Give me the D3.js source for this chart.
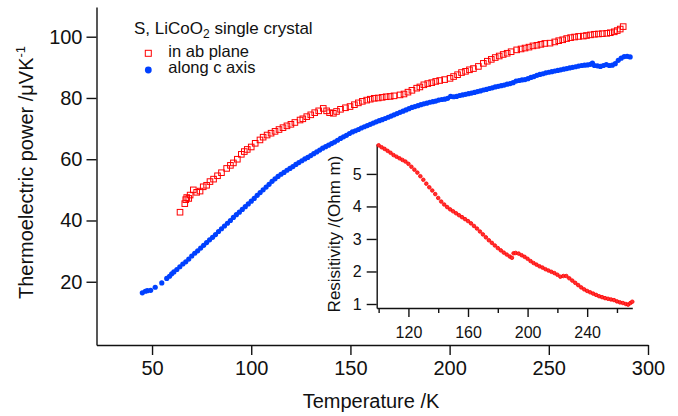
<!DOCTYPE html>
<html><head><meta charset="utf-8">
<script src="https://cdn.jsdelivr.net/npm/d3@7"></script>
<style>
html,body{margin:0;padding:0;background:#fff;}
svg{display:block;font-family:"Liberation Sans",Arial,Helvetica,sans-serif;}
</style></head>
<body><svg id="chart" width="678" height="416"></svg>
<script>
// ---- Data ----
const abT = [64.1,66.5,67.0,67.5,68.5,69.2,70.8,72.5,74.2,75.8,77.5,79.2,81,83,85,87.6,89.5,91,93,95,96.5,98,100,102,104.4,106,108,110,112,114,116,118,120,122,124.6,126,128,130,132,134,136.3,138,139.5,141.4,143,145,147.5,149.8,152,154,156,158.2,160,162,164,166,168,170,172,175,177,179,181,183.4,185,187,189,191,193,195,197.5,200.2,202,204,206,208,210,212,214.5,217,219,221,223,225,227,229,231,233.8,236,238,240,242,244,246,248,250.6,253,255,257,259,261,263,265,267.4,269,271,273,275,277,279.2,281,283,284.5,286,287.5];
const abS = [42.7,45.5,46.8,47.5,47.2,48.3,50.0,49.2,49.6,51.0,51.5,52.7,53.5,54.6,55.6,57.0,58.0,58.8,60.0,61.6,62.5,63.2,64.0,65.2,66.3,67.2,67.9,68.5,69.1,69.7,70.3,70.9,71.4,72.0,72.8,73.2,73.9,74.5,75.2,75.8,76.6,75.8,75.2,75.0,75.6,76.3,76.8,77.2,77.8,78.4,78.9,79.3,79.6,79.9,80.0,80.2,80.4,80.5,80.7,81.0,81.3,81.9,82.5,83.2,83.6,84.3,84.7,85.0,85.4,85.7,86.0,86.4,87.0,87.6,88.3,88.7,89.2,89.6,90.3,91.3,92.0,92.6,93.2,93.7,94.2,94.6,95.1,95.7,96.0,96.3,96.6,97.0,97.2,97.5,97.8,97.9,98.3,98.7,99.0,99.4,99.7,99.9,100.1,100.2,100.4,100.6,100.8,100.9,101.0,101.1,101.3,101.6,102.0,102.5,103.3];

const cT = [45.1,46.6,47.6,49.3,51.6,54.9,57.4,58.8,59.9,61.0,62.5,64.0,65.5,67.0,68.5,70.0,71.5,73.0,74.5,76.0,77.5,79.0,80.5,82.0,83.5,85.0,86.5,88.0,89.5,91.0,92.5,94.0,95.5,97.0,98.5,100.0,101.5,103.0,104.5,106.0,107.5,109.0,110.5,112.0,113.5,115.0,116.5,118.0,119.5,121.0,122.5,124.0,125.5,127.0,128.5,130.0,131.5,133.0,134.5,136.0,137.5,139.0,140.5,142.0,143.5,145.0,146.5,148.0,149.5,151.0,152.5,154.0,155.5,157.0,158.5,160.0,161.5,163.0,164.5,166.0,167.5,169.0,170.5,172.0,173.5,175.0,176.5,178.0,179.5,181.0,182.5,184.0,185.5,187.0,188.5,190.0,191.5,193.0,194.5,196.0,197.5,199.0,200.5,202.0,203.5,205.0,206.5,208.0,209.5,211.0,212.5,214.0,215.5,217.0,218.5,220.0,221.5,223.0,224.5,226.0,227.5,229.0,230.5,232.0,233.5,235.0,236.5,238.0,239.5,241.0,242.5,244.0,245.5,247.0,248.5,250.0,251.5,253.0,254.5,256.0,257.5,259.0,260.5,262.0,263.5,265.0,266.5,268.0,269.5,271.0,272.0,273.0,274.5,276.0,277.5,279.0,280.5,282.0,283.5,285.0,286.5,288.0,289.5,291.0];
const cS = [16.4,16.9,17.1,17.2,18.2,19.6,21.1,21.8,22.6,23.2,24.0,24.9,25.8,26.5,27.4,28.4,29.3,30.1,31.0,31.9,32.8,33.7,34.5,35.4,36.4,37.3,38.2,39.1,40.0,41.0,41.9,42.7,43.6,44.5,45.4,46.3,47.2,48.2,49.1,50.0,50.9,51.8,52.8,53.6,54.4,55.1,55.7,56.4,57.0,57.6,58.3,58.9,59.5,60.1,60.6,61.2,61.8,62.4,63.0,63.6,64.1,64.6,65.1,65.6,66.2,66.8,67.3,67.8,68.4,68.9,69.3,69.7,70.2,70.6,71.0,71.4,71.8,72.2,72.6,72.9,73.3,73.7,74.1,74.5,74.9,75.3,75.7,76.1,76.5,76.9,77.2,77.5,77.8,78.1,78.3,78.6,78.8,79.0,79.3,79.5,79.6,79.9,80.5,80.4,80.5,80.8,81.0,81.2,81.4,81.6,81.8,82.1,82.3,82.6,82.8,83.1,83.3,83.6,83.8,84.0,84.2,84.5,84.7,85.0,85.5,85.7,85.9,86.0,86.3,86.7,87.0,87.4,87.7,87.9,88.2,88.4,88.6,88.8,89.0,89.2,89.4,89.6,89.8,90.0,90.2,90.4,90.6,90.7,90.8,91.0,91.4,90.6,90.5,90.3,90.6,90.9,90.6,90.7,91.2,92.3,93.0,93.5,93.6,93.4];

const rhoT = [100,102,104,106,108,110,112,114,116,118,120,122,124,126,128,130,132,134,136,138,140,142,144,146,148,150,152,154,156,158,160,162,164,166,168,170,172,174,176,178,180,182,184,186,188,189.5,190.6,192,194,196,198,200,202,204,206,208,210,212,214,216,218,220,222,224,226,228,230,232,234,236,238,240,242,244,246,248,250,252,254,256,258,260,262,264,266,267.5,269,270.3];
const rho = [5.88,5.82,5.77,5.71,5.65,5.58,5.53,5.48,5.43,5.38,5.31,5.22,5.13,5.04,4.93,4.82,4.70,4.59,4.49,4.38,4.26,4.15,4.06,3.98,3.91,3.85,3.79,3.73,3.67,3.61,3.55,3.48,3.40,3.32,3.23,3.14,3.05,2.96,2.88,2.80,2.72,2.65,2.58,2.52,2.46,2.42,2.56,2.57,2.55,2.50,2.45,2.39,2.32,2.26,2.21,2.16,2.12,2.07,2.03,1.99,1.95,1.90,1.84,1.86,1.86,1.79,1.72,1.65,1.58,1.51,1.45,1.40,1.36,1.32,1.28,1.24,1.21,1.18,1.16,1.14,1.12,1.08,1.05,1.03,1.00,0.98,1.03,1.07];

const mainXTicks = [50,100,150,200,250,300];
const mainYTicks = [20,40,60,80,100];
const insetXMajor = [120,160,200,240];
const insetXMinor = [100,140,180,220,260];
const insetYTicks = [1,2,3,4,5];

// ---- Drawing ----
const svg = d3.select("#chart");
const RED = "#ff0000", BLUE = "#0040ff", INK = "#111";

const x = d3.scaleLinear().domain([22, 300]).range([96.5, 648]);
const y = d3.scaleLinear().domain([-0.65, 109.7]).range([345, 7]);

function styleAxis(g, fs){
  g.selectAll(".domain").attr("stroke", INK).attr("stroke-width", 1.4);
  g.selectAll(".tick line").attr("stroke", INK).attr("stroke-width", 1.4);
  g.selectAll(".tick text").attr("fill", INK).style("font-size", fs + "px")
   .style("font-family", '"Liberation Sans",Arial,sans-serif');
}

const gx = svg.append("g").attr("transform", "translate(0,345)")
  .call(d3.axisBottom(x).tickValues(mainXTicks).tickSize(10).tickPadding(6).tickSizeOuter(0));
styleAxis(gx, 20);
const gy = svg.append("g").attr("transform", "translate(96.5,0)")
  .call(d3.axisLeft(y).tickValues(mainYTicks).tickSize(10).tickPadding(4).tickSizeOuter(0));
styleAxis(gy, 20);

// titles
svg.append("text").attr("x", 371).attr("y", 408).attr("text-anchor", "middle")
  .style("font-size", "20px").attr("fill", INK).text("Temperature /K");
const yt = svg.append("text").attr("transform", "translate(33,172.5) rotate(-90)")
  .attr("text-anchor", "middle").style("font-size", "20px").attr("fill", INK);
yt.append("tspan").text("Thermoelectric power /\u03bcVK");
yt.append("tspan").attr("dy", -8).style("font-size", "13px").text("-1");

// series: c axis
svg.append("g").selectAll("circle").data(cT).join("circle")
  .attr("cx", (d) => x(d)).attr("cy", (d, i) => y(cS[i])).attr("r", 2.6)
  .attr("fill", BLUE);
// series: ab plane
const sq = 5.6;
svg.append("g").selectAll("rect").data(abT).join("rect")
  .attr("x", (d) => x(d) - sq/2).attr("y", (d, i) => y(abS[i]) - sq/2)
  .attr("width", sq).attr("height", sq)
  .attr("fill", "none").attr("stroke", RED).attr("stroke-width", 1);

// legend
const lg = svg.append("g").style("font-size", "16.5px").attr("fill", INK);
const lt = lg.append("text").attr("x", 134).attr("y", 34).style("font-size", "17px");
lt.append("tspan").text("S, LiCoO");
lt.append("tspan").attr("dy", 4).style("font-size", "12px").text("2");
lt.append("tspan").attr("dy", -4).text(" single crystal");
lg.append("rect").attr("x", 148.3 - 3).attr("y", 53.3 - 3).attr("width", 6).attr("height", 6)
  .attr("fill", "none").attr("stroke", RED).attr("stroke-width", 1);
lg.append("text").attr("x", 168.3).attr("y", 56.6).text("in ab plane");
lg.append("circle").attr("cx", 148.3).attr("cy", 70).attr("r", 3.4).attr("fill", BLUE);
lg.append("text").attr("x", 168.3).attr("y", 73.4).text("along c axis");

// inset
const xi = d3.scaleLinear().domain([98.7, 270.3]).range([376.7, 632.3]);
const yi = d3.scaleLinear().domain([0.877, 5.92]).range([308, 144]);
const gxi = svg.append("g").attr("transform", "translate(0,308)")
  .call(d3.axisBottom(xi).tickValues(insetXMajor).tickSize(9).tickPadding(10).tickSizeOuter(0));
styleAxis(gxi, 16);
const gxm = svg.append("g").attr("transform", "translate(0,308)")
  .call(d3.axisBottom(xi).tickValues(insetXMinor).tickSize(5).tickFormat("").tickSizeOuter(0));
styleAxis(gxm, 16);
gxm.select(".domain").remove();
const gyi = svg.append("g").attr("transform", "translate(376.7,0)")
  .call(d3.axisLeft(yi).tickValues(insetYTicks).tickFormat(d3.format("d")).tickSize(10).tickPadding(5).tickSizeOuter(0));
styleAxis(gyi, 16);
svg.append("text").attr("transform", "translate(340,234) rotate(-90)")
  .attr("text-anchor", "middle").style("font-size", "17px").attr("fill", INK)
  .text("Resisitivity /(Ohm m)");

svg.append("g").selectAll("circle").data(rhoT).join("circle")
  .attr("cx", (d) => xi(d)).attr("cy", (d, i) => yi(rho[i])).attr("r", 1.8)
  .attr("fill", "#ff3030").attr("stroke", RED).attr("stroke-width", 0.8);
</script></body></html>
